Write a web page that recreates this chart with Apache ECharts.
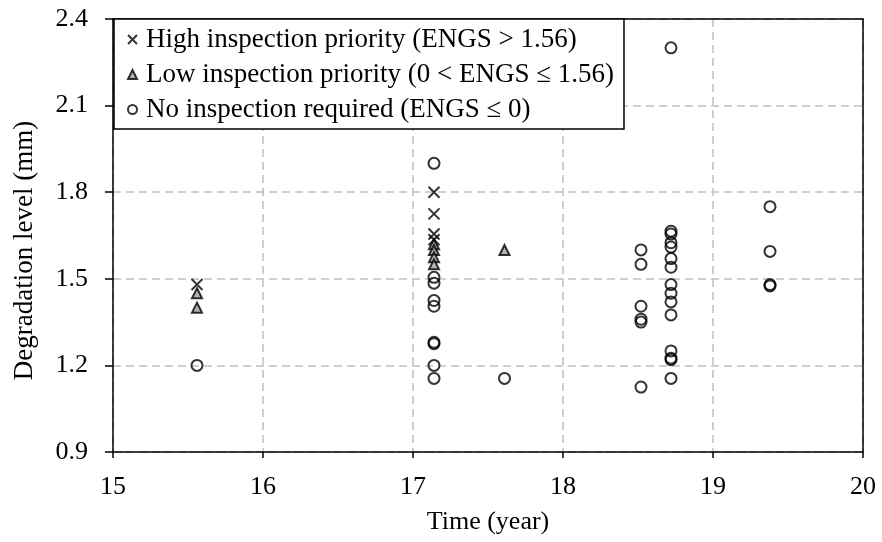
<!DOCTYPE html>
<html>
<head>
<meta charset="utf-8">
<script src="https://cdn.jsdelivr.net/npm/echarts@6/dist/echarts.min.js"></script>
<style>
  html, body { margin: 0; padding: 0; background: #fff; }
  #chart { width: 882px; height: 542px; }
</style>
</head>
<body>
<div id="chart"></div>
<script>
// Inspection categories by expected net gain of sampling (ENGS)
const seriesNames = [
  'High inspection priority (ENGS > 1.56)',
  'Low inspection priority (0 < ENGS \u2264 1.56)',
  'No inspection required (ENGS \u2264 0)'
];

// High priority: time (year) and degradation level (mm)
const highTime  = [15.56, 17.14, 17.14, 17.14, 17.14];
const highLevel = [1.48, 1.80, 1.725, 1.655, 1.635];

// Low priority
const lowTime  = [15.56, 15.56, 17.14, 17.14, 17.14, 17.14, 17.61];
const lowLevel = [1.45, 1.40, 1.62, 1.60, 1.575, 1.55, 1.60];

// No inspection required
const noneTime = [
  15.56,
  17.14, 17.14, 17.14, 17.14, 17.14, 17.14, 17.14, 17.14, 17.14,
  17.61,
  18.52, 18.52, 18.52, 18.52, 18.52, 18.52,
  18.72, 18.72, 18.72, 18.72, 18.72, 18.72, 18.72, 18.72, 18.72, 18.72, 18.72, 18.72, 18.72, 18.72, 18.72,
  19.38, 19.38, 19.38, 19.38
];
const noneLevel = [
  1.20,
  1.90, 1.505, 1.485, 1.425, 1.405, 1.28, 1.275, 1.20, 1.155,
  1.155,
  1.60, 1.55, 1.405, 1.36, 1.35, 1.125,
  2.30, 1.665, 1.655, 1.625, 1.61, 1.57, 1.54, 1.48, 1.45, 1.42, 1.375, 1.25, 1.225, 1.22, 1.155,
  1.75, 1.595, 1.48, 1.475
];

// Axis ranges
const xMin = 15, xMax = 20, xStep = 1;
const yMin = 0.9, yMax = 2.4, yStep = 0.3;

const pairs = (xs, ys) => xs.map((x, i) => [x, ys[i]]);

const FONT = '"Liberation Serif", "Times New Roman", serif';
const FS = 26;
const crossPath = 'path://M0,0L10,10M10,0L0,10';

const chart = echarts.init(document.getElementById('chart'));

const dashed = { type: [8, 5], color: '#c0c0c0', width: 1.5 };
const frameLine = { show: true, onZero: false, lineStyle: { color: '#000', width: 1.5 } };

chart.setOption({
  animation: false,
  backgroundColor: '#fff',
  textStyle: { fontFamily: FONT, color: '#000' },
  grid: { left: 113, right: 19, top: 19, bottom: 90 },
  legend: {
    orient: 'vertical',
    left: 114, top: 19,
    padding: [7, 10, 6, 13],
    itemGap: 8,
    itemWidth: 9,
    itemHeight: 9,
    backgroundColor: '#fff',
    borderColor: '#000',
    borderWidth: 1.5,
    borderRadius: 0,
    textStyle: { fontFamily: FONT, fontSize: 27, lineHeight: 26, color: '#000', padding: [0, 0, 0, 4] },
    data: [
      { name: seriesNames[0], icon: crossPath },
      { name: seriesNames[1], icon: 'triangle' },
      { name: seriesNames[2], icon: 'circle' }
    ]
  },
  xAxis: [
    {
      type: 'value',
      min: xMin, max: xMax, interval: xStep,
      name: 'Time (year)',
      nameLocation: 'middle',
      nameGap: 57,
      nameTextStyle: { fontFamily: FONT, fontSize: FS, color: '#000', verticalAlign: 'top' },
      axisLine: frameLine,
      axisTick: { show: true, inside: false, length: 6, lineStyle: { color: '#000', width: 1.5 } },
      axisLabel: { fontFamily: FONT, fontSize: FS, color: '#000', margin: 22 },
      splitLine: { show: true, lineStyle: dashed }
    },
    {
      // top frame edge
      type: 'value', position: 'top',
      min: xMin, max: xMax, interval: xStep,
      axisLine: frameLine,
      axisTick: { show: false }, axisLabel: { show: false }, splitLine: { show: false }
    }
  ],
  yAxis: [
    {
      type: 'value',
      min: yMin, max: yMax, interval: yStep,
      name: 'Degradation level (mm)',
      nameLocation: 'middle',
      nameGap: 75,
      nameTextStyle: { fontFamily: FONT, fontSize: 27, color: '#000', padding: [0, 30, 0, 0] },
      axisLine: frameLine,
      axisTick: { show: true, inside: false, length: 8, lineStyle: { color: '#000', width: 1.5 } },
      axisLabel: {
        fontFamily: FONT, fontSize: FS, color: '#000', margin: 25,
        formatter: v => v.toFixed(1)
      },
      splitLine: { show: true, lineStyle: dashed }
    },
    {
      // right frame edge
      type: 'value', position: 'right',
      min: yMin, max: yMax, interval: yStep,
      axisLine: frameLine,
      axisTick: { show: false }, axisLabel: { show: false }, splitLine: { show: false }
    }
  ],
  series: [
    {
      name: seriesNames[0],
      type: 'scatter',
      symbol: crossPath,
      symbolSize: 11,
      itemStyle: { color: 'transparent', borderColor: '#000', borderWidth: 2 },
      data: pairs(highTime, highLevel),
      z: 4
    },
    {
      name: seriesNames[1],
      type: 'scatter',
      symbol: 'triangle',
      symbolSize: 10,
      itemStyle: { color: '#a0a0a0', borderColor: '#000', borderWidth: 2 },
      data: pairs(lowTime, lowLevel),
      z: 3
    },
    {
      name: seriesNames[2],
      type: 'scatter',
      symbol: 'circle',
      symbolSize: 11,
      itemStyle: { color: 'transparent', borderColor: '#000', borderWidth: 2 },
      data: pairs(noneTime, noneLevel),
      z: 2
    }
  ]
});
</script>
</body>
</html>
